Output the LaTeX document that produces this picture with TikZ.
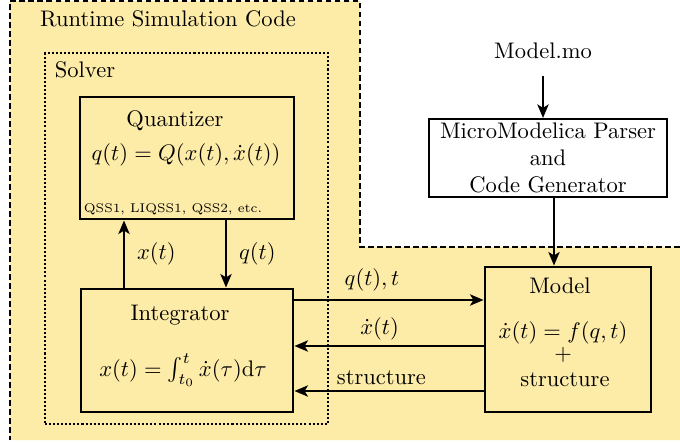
\documentclass[tikz,border=0pt]{standalone}
\usetikzlibrary{positioning,fit,arrows.meta}
\definecolor{rtyellow}{RGB}{253,235,168}

\begin{document}
\begin{tikzpicture}
[x=0.444pt, y=-0.444pt,
 block/.style={draw, line width=1.3pt, inner sep=0pt},
 link/.style={line width=0.95pt, -{Stealth[length=6pt, width=5pt, inset=1.5pt]}}]
\useasboundingbox (0,0) rectangle (680,445);

% runtime region
\fill[rtyellow] (10,1) -- (360,1) -- (360,247) -- (680,247) -- (680,440) -- (10,440) -- cycle;
\draw[line width=0.95pt, dash pattern=on 2.5pt off 1.5pt] (680,247) -- (360,247) -- (360,1) -- (10,1) -- (10,440);
\node (runtime) at (168,19) {Runtime Simulation Code};

% solver
\node[draw, line width=0.95pt, dash pattern=on 0.9pt off 0.9pt, inner sep=0pt, fit={(45,53) (328,424)}] (solver) {};
\node (solverlabel) at (85,70) {Solver};

\node[block, fit={(80,97) (294,219)}] (quant) {};
\node (quanttitle) at (175,121) {Quantizer};
\node (quanteq) at (186,155) {$q(t) = Q(x(t),\dot{x}(t))$};
\node[font=\fontsize{5.6}{6.5}\selectfont] (quantmeth) at (173,209) {QSS1, LIQSS1, QSS2, etc.};

\node[block, fit={(81,289) (293,412)}] (integ) {};
\node (integtitle) at (180,315) {Integrator};
\node (integeq) at (183,370) {$x(t) = \int_{t_0}^{t} \dot{x}(\tau)\mathrm{d}\tau$};

% model side
\node[block, fit={(485,267) (651,412)}] (model) {};
\node (modeltitle) at (560,286) {Model};
\node (modeleq) at (563,333) {$\dot{x}(t) = f(q,t)$};
\node (modelplus) at (563,355) {$+$};
\node (modelstruct) at (565,380) {structure};

\node (mo) at (543,51) {Model.mo};
\node[draw, line width=0.95pt, align=center, inner sep=1pt, minimum width=105.7pt, minimum height=34.6pt] (parser) at (548,158)
  {MicroModelica Parser\\and\\Code Generator};

\draw[link, shorten <=4pt] (mo.south) -- (mo.south |- parser.north);
\draw[link] (parser.south -| 554,0) -- (model.north -| 554,0);

\draw[link] (integ.north -| 124,0) -- node[right=2pt] {$x(t)$} (quant.south -| 124,0);
\draw[link] (quant.south -| 226,0) -- node[right=2pt] {$q(t)$} (integ.north -| 226,0);

\draw[link] (integ.east |- 0,300) -- node[above=0pt, pos=0.41] {$q(t), t$} (model.west |- 0,300);
\draw[link] (model.west |- 0,346) -- node[above=-1pt, pos=0.55] {$\dot{x}(t)$} (integ.east |- 0,346);
\draw[link] (model.west |- 0,391) -- node[above=-1pt, pos=0.54] {structure} (integ.east |- 0,391);
\end{tikzpicture}
\end{document}
